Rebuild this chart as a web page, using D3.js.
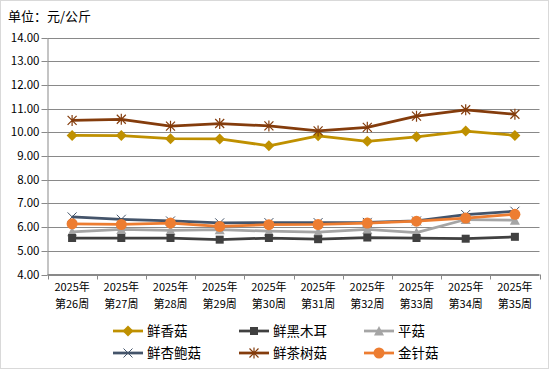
<!DOCTYPE html>
<html><head><meta charset="utf-8">
<script src="https://cdn.jsdelivr.net/npm/d3@7/dist/d3.min.js"></script>
<style>body{margin:0;background:#fff}svg{display:block}</style>
</head><body>
<svg id="c" width="550" height="370"></svg>
<script>
const years = ["2025年","2025年","2025年","2025年","2025年","2025年","2025年","2025年","2025年","2025年"];
const weeks = ["第26周","第27周","第28周","第29周","第30周","第31周","第32周","第33周","第34周","第35周"];
const yTicks = [4,5,6,7,8,9,10,11,12,13,14];
const seriesNames = ["鲜香菇","鲜黑木耳","平菇","鲜杏鲍菇","鲜茶树菇","金针菇"];
const xiangGu   = [9.87,9.86,9.73,9.72,9.43,9.85,9.62,9.81,10.05,9.87];
const heiMuEr   = [5.54,5.54,5.54,5.47,5.54,5.49,5.56,5.54,5.51,5.59];
const pingGu    = [5.80,5.90,5.86,5.89,5.83,5.79,5.90,5.77,6.32,6.29];
const xingBaoGu = [6.43,6.33,6.26,6.18,6.19,6.19,6.20,6.26,6.53,6.67];
const chaShuGu  = [10.50,10.55,10.26,10.37,10.27,10.06,10.21,10.68,10.95,10.76];
const jinZhenGu = [6.14,6.11,6.17,6.03,6.10,6.11,6.17,6.25,6.38,6.54];
const seriesValues = [xiangGu,heiMuEr,pingGu,xingBaoGu,chaShuGu,jinZhenGu];
const colors = ["#BF9000","#404040","#A5A5A5","#44546A","#843C0C","#ED7D31"];
const markers = ["diamond","square","triangle","x","asterisk","circle"];

const svg = d3.select("#c");
const font = "'Noto Sans CJK SC', 'DejaVu Sans', sans-serif";
svg.append("rect").attr("x",0.5).attr("y",0.5).attr("width",548).attr("height",368)
  .attr("fill","#fff").attr("stroke","#D9D9D9");

svg.append("text").attr("x",8).attr("y",21).attr("font-family",font).attr("font-size",13)
  .attr("fill","#000").text("单位：元/公斤");

const L=47.5, R=539.5, T=37.5, B=274.5;
const x = d3.scaleBand().domain(weeks.map((d,i)=>i)).range([L,R]);
const y = d3.scaleLinear().domain([4,14]).range([B,T]);

// gridlines
svg.append("g").selectAll("line").data(yTicks).join("line")
  .attr("x1",L).attr("x2",R).attr("y1",d=>Math.round(y(d))+0.5).attr("y2",d=>Math.round(y(d))+0.5)
  .attr("stroke","#898989").attr("stroke-width",1);

const yAxis = svg.append("g").attr("transform",`translate(${L},0)`)
  .call(d3.axisLeft(y).tickValues(yTicks).tickFormat(d3.format(".2f")).tickSize(6).tickSizeOuter(0));
yAxis.select(".domain").attr("stroke","#898989");
yAxis.selectAll(".tick line").attr("stroke","#898989");
yAxis.selectAll(".tick").attr("transform",d=>`translate(0,${Math.round(y(d))+0.5})`);
yAxis.selectAll("text").attr("font-family",font).attr("font-size",11.5).attr("fill","#000").attr("x",-8);

// x axis
const xg = svg.append("g");
xg.append("line").attr("x1",L).attr("x2",R).attr("y1",B).attr("y2",B).attr("stroke","#898989");
const bounds = d3.range(weeks.length+1).map(i=> i<weeks.length ? x(i) : x(weeks.length-1)+x.bandwidth());
xg.selectAll("line.t").data(bounds).join("line").attr("class","t")
  .attr("x1",d=>Math.round(d)+0.5).attr("x2",d=>Math.round(d)+0.5).attr("y1",B).attr("y2",B+5).attr("stroke","#898989");
xg.selectAll("text.yr").data(years).join("text").attr("class","yr")
  .attr("font-family",font).attr("font-size",11).attr("text-anchor","middle").attr("fill","#000")
  .attr("x",(d,i)=>x(i)+x.bandwidth()/2).attr("y",291).text(d=>d);
xg.selectAll("text.wk").data(weeks).join("text").attr("class","wk")
  .attr("font-family",font).attr("font-size",11).attr("text-anchor","middle").attr("fill","#000")
  .attr("x",(d,i)=>x(i)+x.bandwidth()/2).attr("y",307.5).text(d=>d);

function drawMarker(g, type, color, cx, cy){
  const gg = g.append("g").attr("transform",`translate(${cx},${cy})`);
  if(type==="diamond") gg.append("path").attr("d","M0,-5.5L5.5,0L0,5.5L-5.5,0Z").attr("fill",color);
  else if(type==="square") gg.append("rect").attr("x",-4).attr("y",-4).attr("width",8).attr("height",8).attr("fill",color);
  else if(type==="triangle") gg.append("path").attr("d","M0,-5L5,4.5L-5,4.5Z").attr("fill",color);
  else if(type==="circle") gg.append("circle").attr("r",5.5).attr("fill",color);
  else if(type==="x") gg.append("path").attr("d","M-4.5,-4.5L4.5,4.5M-4.5,4.5L4.5,-4.5").attr("stroke",color).attr("stroke-width",1);
  else if(type==="asterisk") gg.append("path").attr("d","M-4.5,-4.5L4.5,4.5M-4.5,4.5L4.5,-4.5M0,-5.5L0,5.5").attr("stroke",color).attr("stroke-width",1.2);
}

const line = d3.line().x((d,i)=>x(i)+x.bandwidth()/2).y(d=>y(d));
const order = [2,1,0,4,3,5];
order.forEach(si=>{
  const g = svg.append("g");
  g.append("path").attr("d",line(seriesValues[si])).attr("fill","none")
    .attr("stroke",colors[si]).attr("stroke-width",2.75).attr("stroke-linejoin","round");
  seriesValues[si].forEach((v,i)=>drawMarker(g,markers[si],colors[si],x(i)+x.bandwidth()/2,y(v)));
});

// legend
const legX = [113,239,364], legY=[331,353];
seriesNames.forEach((n,i)=>{
  const lx = legX[i%3], ly = legY[Math.floor(i/3)];
  const g = svg.append("g");
  g.append("line").attr("x1",lx).attr("x2",lx+30).attr("y1",ly).attr("y2",ly).attr("stroke",colors[i]).attr("stroke-width",2.75);
  drawMarker(g,markers[i],colors[i],lx+15,ly);
  g.append("text").attr("x",lx+34).attr("y",ly+5).attr("font-family",font).attr("font-size",13.5).attr("fill","#000").text(n);
});
</script>
</body></html>
